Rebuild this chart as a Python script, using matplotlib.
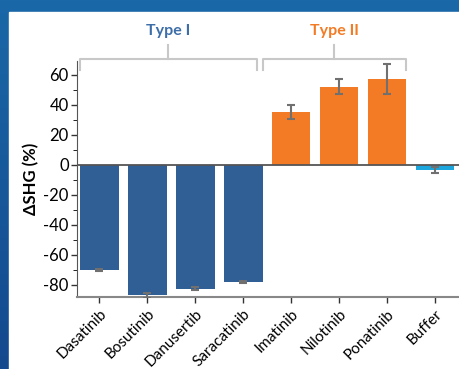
import numpy as np
import matplotlib
matplotlib.use("Agg")
import matplotlib.pyplot as plt
from matplotlib.patches import Rectangle
from matplotlib.colors import LinearSegmentedColormap

plt.rcParams['font.family'] = ['Lato', 'DejaVu Sans']

drugs = ['Dasatinib', 'Bosutinib', 'Danusertib', 'Saracatinib',
         'Imatinib', 'Nilotinib', 'Ponatinib', 'Buffer']
shg = [-70, -87, -82.5, -78, 35, 52, 57, -3.5]
err = [0.5, 1.5, 1.0, 0.7, 4.8, 5.0, 9.7, 2.3]
groups = ['Type I', 'Type II']

blue = '#2f5f95'
orange = '#f47b25'
cyan = '#1ba6de'
bar_colors = [blue] * 4 + [orange] * 3 + [cyan]

fig = plt.figure(figsize=(4.6, 3.69), dpi=100)

# blue gradient background with white panel
bg = fig.add_axes([0, 0, 1, 1], zorder=-10)
grad = np.linspace(0, 1, 256).reshape(-1, 1)
cm = LinearSegmentedColormap.from_list('bg', ['#1a68a7', '#14498e'])
bg.imshow(grad, aspect='auto', cmap=cm, extent=[0, 1, 0, 1], origin='upper')
bg.add_patch(Rectangle((9 / 460, 0), 1, 1 - 12 / 369, color='white'))
bg.set_xlim(0, 1)
bg.set_ylim(0, 1)
bg.axis('off')

ax = fig.add_axes([77 / 460, 1 - 297 / 369, (460 - 77) / 460, (297 - 61) / 369])
x = np.arange(len(drugs))
ax.bar(x, shg, width=0.81, color=bar_colors, zorder=2)
ax.errorbar(x, shg, yerr=err, fmt='none', ecolor='#707070', elinewidth=1.5,
            capsize=3, capthick=1.5, zorder=3)
ax.axhline(0, color='#555555', lw=1.3, zorder=4)

ax.set_xlim(-0.46, 7.52)
ax.set_ylim(-88, 69)
ax.set_yticks(np.arange(-80, 61, 20))
ax.set_yticklabels([str(v) for v in range(-80, 61, 20)])
ax.set_yticks(np.arange(-80, 61, 10), minor=True)
ax.set_xticks(x)
ax.set_xticklabels(drugs, rotation=45, ha='right', rotation_mode='anchor')
ax.tick_params(axis='both', color='#333333', length=4, width=1)
ax.tick_params(axis='y', labelsize=12, pad=2)
ax.tick_params(axis='y', which='minor', length=3)
ax.tick_params(axis='x', labelsize=11, pad=3)
for s in ['top', 'right']:
    ax.spines[s].set_visible(False)
ax.spines['left'].set_color('#555555')
ax.spines['bottom'].set_color('#888888')
ax.spines['bottom'].set_linewidth(1.5)
ax.set_ylabel('ΔSHG (%)', fontsize=12, fontweight='bold', labelpad=3)

# group brackets (figure pixel coords)
def bracket(x0, x1, label, color):
    xc = (x0 + x1) / 2
    yt = 1 - 59 / 369
    yb = 1 - 70 / 369
    ys = 1 - 45 / 369
    fx0, fx1, fxc = x0 / 460, x1 / 460, xc / 460
    kw = dict(color='#c8c8c8', lw=1.5, transform=fig.transFigure, zorder=5)
    fig.add_artist(plt.Line2D([fx0, fx0, fx1, fx1], [yb, yt, yt, yb], **kw))
    fig.add_artist(plt.Line2D([fxc, fxc], [yt, ys], **kw))
    fig.text(fxc, 1 - 31 / 369, label, color=color, fontsize=11.5,
             fontweight='bold', ha='center', va='center')

bracket(80, 257, groups[0], '#3d6ea8')
bracket(263, 406, groups[1], '#f47b25')

fig.savefig('out.png', dpi=100)
